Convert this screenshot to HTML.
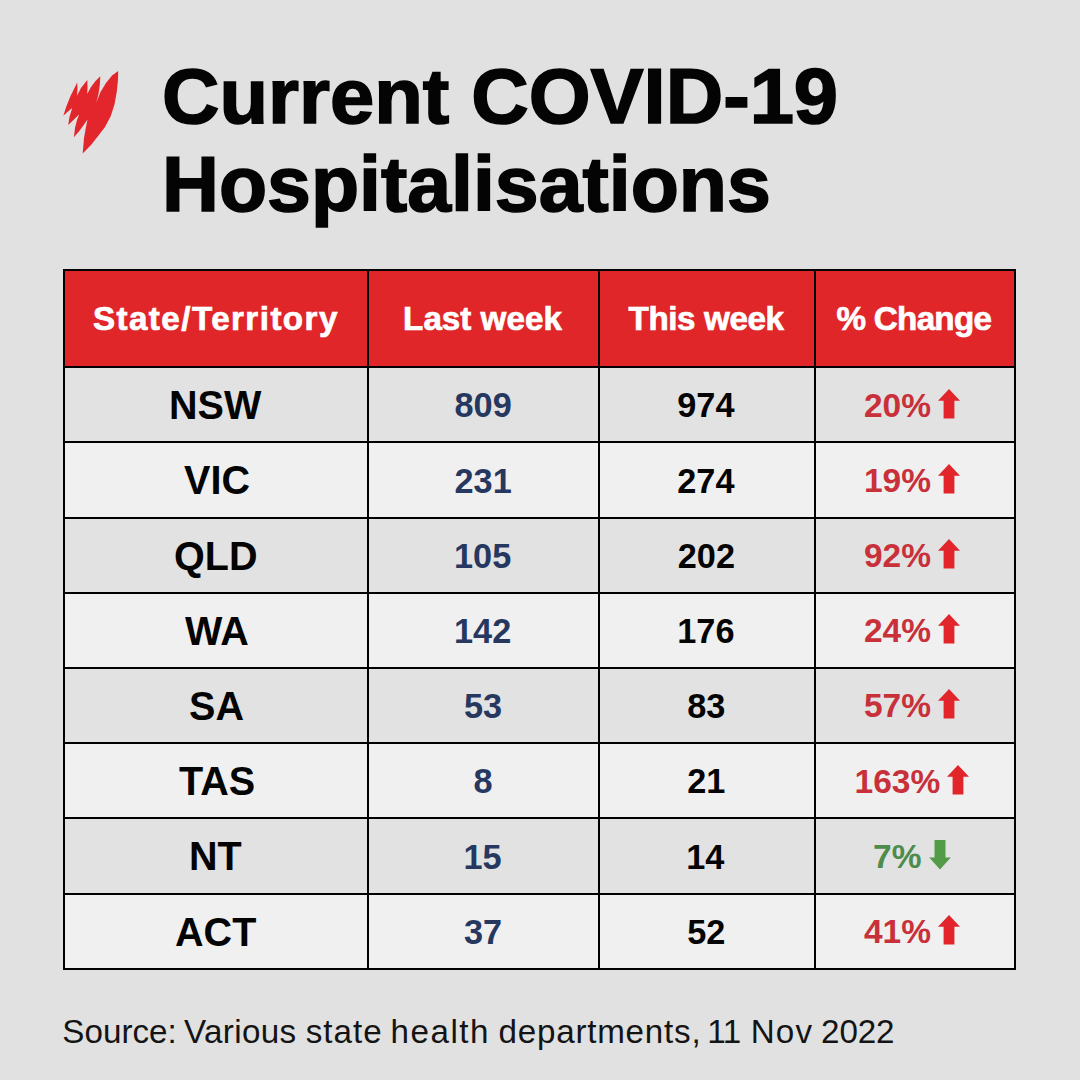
<!DOCTYPE html>
<html><head><meta charset="utf-8"><title>Current COVID-19 Hospitalisations</title><style>
html,body{margin:0;padding:0;}
body{width:1080px;height:1080px;background:#e1e1e1;position:relative;overflow:hidden;font-family:"Liberation Sans",sans-serif;}
</style></head><body>
<svg style="position:absolute;left:0;top:0" width="200" height="200" viewBox="0 0 200 200"><path d="M118.2,71.0 L118.0,80.0 L116.8,91.4 L114.6,104.0 L110.8,116.0 L105.0,127.0 L98.5,135.6 L91.0,145.0 L82.7,153.6 L84.0,138.0 L85.8,128.0 L87.5,119.5 L83.0,126.0 L78.5,132.0 L73.9,137.3 L75.0,128.0 L77.0,120.0 L79.2,114.3 L74.5,119.0 L68.2,125.0 L69.5,117.0 L72.2,108.1 L68.0,111.5 L63.3,115.8 L66.5,106.0 L70.5,96.0 L74.0,89.0 L77.2,82.4 L77.5,89.0 L77.0,95.8 L81.0,88.0 L87.3,80.0 L87.5,87.0 L87.2,94.0 L91.0,87.0 L95.5,81.0 L100.3,76.3 L99.8,85.0 L98.5,94.0 L96.3,102.8 L100.5,92.0 L106.0,83.0 L112.0,75.5Z" fill="#e2262b"/></svg>
<div style="position:absolute;left:63px;top:269px;width:953px;height:97px;background:#e1262a"></div>
<div style="position:absolute;left:63px;top:366px;width:953px;height:75px;background:#e2e2e2"></div>
<div style="position:absolute;left:63px;top:441px;width:953px;height:76px;background:#f0f0f0"></div>
<div style="position:absolute;left:63px;top:517px;width:953px;height:75px;background:#e2e2e2"></div>
<div style="position:absolute;left:63px;top:592px;width:953px;height:75px;background:#f0f0f0"></div>
<div style="position:absolute;left:63px;top:667px;width:953px;height:75px;background:#e2e2e2"></div>
<div style="position:absolute;left:63px;top:742px;width:953px;height:75px;background:#f0f0f0"></div>
<div style="position:absolute;left:63px;top:817px;width:953px;height:76px;background:#e2e2e2"></div>
<div style="position:absolute;left:63px;top:893px;width:953px;height:75px;background:#f0f0f0"></div>
<div style="position:absolute;left:63px;top:269px;width:2px;height:701px;background:#000"></div>
<div style="position:absolute;left:367px;top:269px;width:2px;height:701px;background:#000"></div>
<div style="position:absolute;left:598px;top:269px;width:2px;height:701px;background:#000"></div>
<div style="position:absolute;left:814px;top:269px;width:2px;height:701px;background:#000"></div>
<div style="position:absolute;left:1014px;top:269px;width:2px;height:701px;background:#000"></div>
<div style="position:absolute;left:63px;top:269px;width:953px;height:2px;background:#000"></div>
<div style="position:absolute;left:63px;top:366px;width:953px;height:2px;background:#000"></div>
<div style="position:absolute;left:63px;top:441px;width:953px;height:2px;background:#000"></div>
<div style="position:absolute;left:63px;top:517px;width:953px;height:2px;background:#000"></div>
<div style="position:absolute;left:63px;top:592px;width:953px;height:2px;background:#000"></div>
<div style="position:absolute;left:63px;top:667px;width:953px;height:2px;background:#000"></div>
<div style="position:absolute;left:63px;top:742px;width:953px;height:2px;background:#000"></div>
<div style="position:absolute;left:63px;top:817px;width:953px;height:2px;background:#000"></div>
<div style="position:absolute;left:63px;top:893px;width:953px;height:2px;background:#000"></div>
<div style="position:absolute;left:63px;top:968px;width:953px;height:2px;background:#000"></div>
<div style="position:absolute;left:161.93px;top:58.00px;color:#040404;font-family:'Liberation Sans';font-weight:700;font-size:77.0px;line-height:77.0px;white-space:nowrap;-webkit-text-stroke:1.6px currentColor;transform:scaleX(1.0328);transform-origin:0 0;letter-spacing:0.000px">Current COVID-19</div>
<div style="position:absolute;left:162.11px;top:146.10px;color:#040404;font-family:'Liberation Sans';font-weight:700;font-size:77.0px;line-height:77.0px;white-space:nowrap;-webkit-text-stroke:1.6px currentColor;transform:scaleX(1.0236);transform-origin:0 0;letter-spacing:0.000px">Hospitalisations</div>
<div style="position:absolute;left:92.90px;top:302.40px;color:#fff;font-family:'Liberation Sans';font-weight:700;font-size:33.2px;line-height:33.2px;white-space:nowrap;-webkit-text-stroke:0.7px currentColor;transform:scaleX(1.0000);transform-origin:0 0;letter-spacing:1.436px">State/Territory</div>
<div style="position:absolute;left:403.10px;top:302.40px;color:#fff;font-family:'Liberation Sans';font-weight:700;font-size:33.2px;line-height:33.2px;white-space:nowrap;-webkit-text-stroke:0.7px currentColor;transform:scaleX(1.0000);transform-origin:0 0;letter-spacing:0.013px">Last week</div>
<div style="position:absolute;left:628.50px;top:302.40px;color:#fff;font-family:'Liberation Sans';font-weight:700;font-size:33.2px;line-height:33.2px;white-space:nowrap;-webkit-text-stroke:0.7px currentColor;transform:scaleX(1.0000);transform-origin:0 0;letter-spacing:-0.388px">This week</div>
<div style="position:absolute;left:836.60px;top:302.40px;color:#fff;font-family:'Liberation Sans';font-weight:700;font-size:33.2px;line-height:33.2px;white-space:nowrap;-webkit-text-stroke:0.7px currentColor;transform:scaleX(1.0000);transform-origin:0 0;letter-spacing:-0.729px">% Change</div>
<div style="position:absolute;left:62.30px;top:1014.50px;color:#141414;font-family:'Liberation Sans';font-weight:400;font-size:33.2px;line-height:33.2px;white-space:nowrap;transform:scaleX(1.0000);transform-origin:0 0;letter-spacing:0.017px">Source:</div>
<div style="position:absolute;left:183.90px;top:1014.50px;color:#141414;font-family:'Liberation Sans';font-weight:400;font-size:33.2px;line-height:33.2px;white-space:nowrap;transform:scaleX(1.0000);transform-origin:0 0;letter-spacing:0.367px">Various</div>
<div style="position:absolute;left:305.70px;top:1014.50px;color:#141414;font-family:'Liberation Sans';font-weight:400;font-size:33.2px;line-height:33.2px;white-space:nowrap;transform:scaleX(1.0000);transform-origin:0 0;letter-spacing:1.025px">state</div>
<div style="position:absolute;left:390.40px;top:1014.50px;color:#141414;font-family:'Liberation Sans';font-weight:400;font-size:33.2px;line-height:33.2px;white-space:nowrap;transform:scaleX(1.0000);transform-origin:0 0;letter-spacing:1.540px">health</div>
<div style="position:absolute;left:498.50px;top:1014.50px;color:#141414;font-family:'Liberation Sans';font-weight:400;font-size:33.2px;line-height:33.2px;white-space:nowrap;transform:scaleX(1.0000);transform-origin:0 0;letter-spacing:0.764px">departments,</div>
<div style="position:absolute;left:707.20px;top:1014.50px;color:#141414;font-family:'Liberation Sans';font-weight:400;font-size:33.2px;line-height:33.2px;white-space:nowrap;transform:scaleX(1.0000);transform-origin:0 0;letter-spacing:-0.400px">11</div>
<div style="position:absolute;left:750.70px;top:1014.50px;color:#141414;font-family:'Liberation Sans';font-weight:400;font-size:33.2px;line-height:33.2px;white-space:nowrap;transform:scaleX(1.0000);transform-origin:0 0;letter-spacing:1.150px">Nov</div>
<div style="position:absolute;left:821.10px;top:1014.50px;color:#141414;font-family:'Liberation Sans';font-weight:400;font-size:33.2px;line-height:33.2px;white-space:nowrap;transform:scaleX(1.0000);transform-origin:0 0;letter-spacing:-0.167px">2022</div>
<div style="position:absolute;left:169.01px;top:385.10px;color:#040404;font-family:'Liberation Sans';font-weight:700;font-size:40.6px;line-height:40.6px;white-space:nowrap;transform:scaleX(0.9750);transform-origin:0 0;letter-spacing:0.000px">NSW</div>
<div style="position:absolute;left:454.50px;top:388.35px;color:#26385f;font-family:'Liberation Sans';font-weight:700;font-size:34.3px;line-height:34.3px;white-space:nowrap;transform:scaleX(1.0000);transform-origin:0 0;letter-spacing:0.000px">809</div>
<div style="position:absolute;left:677.30px;top:388.35px;color:#040404;font-family:'Liberation Sans';font-weight:700;font-size:34.3px;line-height:34.3px;white-space:nowrap;transform:scaleX(1.0000);transform-origin:0 0;letter-spacing:0.000px">974</div>
<div style="position:absolute;left:184.12px;top:460.30px;color:#040404;font-family:'Liberation Sans';font-weight:700;font-size:40.6px;line-height:40.6px;white-space:nowrap;transform:scaleX(0.9750);transform-origin:0 0;letter-spacing:0.000px">VIC</div>
<div style="position:absolute;left:454.50px;top:463.55px;color:#26385f;font-family:'Liberation Sans';font-weight:700;font-size:34.3px;line-height:34.3px;white-space:nowrap;transform:scaleX(1.0000);transform-origin:0 0;letter-spacing:0.000px">231</div>
<div style="position:absolute;left:677.30px;top:463.55px;color:#040404;font-family:'Liberation Sans';font-weight:700;font-size:34.3px;line-height:34.3px;white-space:nowrap;transform:scaleX(1.0000);transform-origin:0 0;letter-spacing:0.000px">274</div>
<div style="position:absolute;left:174.38px;top:535.50px;color:#040404;font-family:'Liberation Sans';font-weight:700;font-size:40.6px;line-height:40.6px;white-space:nowrap;transform:scaleX(0.9750);transform-origin:0 0;letter-spacing:0.000px">QLD</div>
<div style="position:absolute;left:454.00px;top:538.75px;color:#26385f;font-family:'Liberation Sans';font-weight:700;font-size:34.3px;line-height:34.3px;white-space:nowrap;transform:scaleX(1.0000);transform-origin:0 0;letter-spacing:0.000px">105</div>
<div style="position:absolute;left:677.80px;top:538.75px;color:#040404;font-family:'Liberation Sans';font-weight:700;font-size:34.3px;line-height:34.3px;white-space:nowrap;transform:scaleX(1.0000);transform-origin:0 0;letter-spacing:0.000px">202</div>
<div style="position:absolute;left:185.10px;top:610.70px;color:#040404;font-family:'Liberation Sans';font-weight:700;font-size:40.6px;line-height:40.6px;white-space:nowrap;transform:scaleX(0.9750);transform-origin:0 0;letter-spacing:0.000px">WA</div>
<div style="position:absolute;left:454.00px;top:613.95px;color:#26385f;font-family:'Liberation Sans';font-weight:700;font-size:34.3px;line-height:34.3px;white-space:nowrap;transform:scaleX(1.0000);transform-origin:0 0;letter-spacing:0.000px">142</div>
<div style="position:absolute;left:677.30px;top:613.95px;color:#040404;font-family:'Liberation Sans';font-weight:700;font-size:34.3px;line-height:34.3px;white-space:nowrap;transform:scaleX(1.0000);transform-origin:0 0;letter-spacing:0.000px">176</div>
<div style="position:absolute;left:188.51px;top:685.90px;color:#040404;font-family:'Liberation Sans';font-weight:700;font-size:40.6px;line-height:40.6px;white-space:nowrap;transform:scaleX(0.9750);transform-origin:0 0;letter-spacing:0.000px">SA</div>
<div style="position:absolute;left:464.00px;top:689.15px;color:#26385f;font-family:'Liberation Sans';font-weight:700;font-size:34.3px;line-height:34.3px;white-space:nowrap;transform:scaleX(1.0000);transform-origin:0 0;letter-spacing:0.000px">53</div>
<div style="position:absolute;left:687.30px;top:689.15px;color:#040404;font-family:'Liberation Sans';font-weight:700;font-size:34.3px;line-height:34.3px;white-space:nowrap;transform:scaleX(1.0000);transform-origin:0 0;letter-spacing:0.000px">83</div>
<div style="position:absolute;left:178.76px;top:761.10px;color:#040404;font-family:'Liberation Sans';font-weight:700;font-size:40.6px;line-height:40.6px;white-space:nowrap;transform:scaleX(0.9750);transform-origin:0 0;letter-spacing:0.000px">TAS</div>
<div style="position:absolute;left:473.50px;top:764.35px;color:#26385f;font-family:'Liberation Sans';font-weight:700;font-size:34.3px;line-height:34.3px;white-space:nowrap;transform:scaleX(1.0000);transform-origin:0 0;letter-spacing:0.000px">8</div>
<div style="position:absolute;left:687.30px;top:764.35px;color:#040404;font-family:'Liberation Sans';font-weight:700;font-size:34.3px;line-height:34.3px;white-space:nowrap;transform:scaleX(1.0000);transform-origin:0 0;letter-spacing:0.000px">21</div>
<div style="position:absolute;left:188.51px;top:836.30px;color:#040404;font-family:'Liberation Sans';font-weight:700;font-size:40.6px;line-height:40.6px;white-space:nowrap;transform:scaleX(0.9750);transform-origin:0 0;letter-spacing:0.000px">NT</div>
<div style="position:absolute;left:463.50px;top:839.55px;color:#26385f;font-family:'Liberation Sans';font-weight:700;font-size:34.3px;line-height:34.3px;white-space:nowrap;transform:scaleX(1.0000);transform-origin:0 0;letter-spacing:0.000px">15</div>
<div style="position:absolute;left:686.30px;top:839.55px;color:#040404;font-family:'Liberation Sans';font-weight:700;font-size:34.3px;line-height:34.3px;white-space:nowrap;transform:scaleX(1.0000);transform-origin:0 0;letter-spacing:0.000px">14</div>
<div style="position:absolute;left:175.35px;top:911.50px;color:#040404;font-family:'Liberation Sans';font-weight:700;font-size:40.6px;line-height:40.6px;white-space:nowrap;transform:scaleX(0.9750);transform-origin:0 0;letter-spacing:0.000px">ACT</div>
<div style="position:absolute;left:464.00px;top:914.75px;color:#26385f;font-family:'Liberation Sans';font-weight:700;font-size:34.3px;line-height:34.3px;white-space:nowrap;transform:scaleX(1.0000);transform-origin:0 0;letter-spacing:0.000px">37</div>
<div style="position:absolute;left:687.30px;top:914.75px;color:#040404;font-family:'Liberation Sans';font-weight:700;font-size:34.3px;line-height:34.3px;white-space:nowrap;transform:scaleX(1.0000);transform-origin:0 0;letter-spacing:0.000px">52</div>
<div style="position:absolute;left:612.0px;width:600px;text-align:center;top:388.57px;font-size:33.5px;line-height:33.5px;font-weight:700;color:#c8303a;white-space:nowrap">20%<svg width="22" height="30" viewBox="0 0 22 30" style="vertical-align:top;margin-left:7.2px;position:relative;top:0px"><path d="M11 0 L22 11.8 L16.4 11.8 L16.4 29.6 L5.6 29.6 L5.6 11.8 L0 11.8Z" fill="#e2242b"/></svg></div>
<div style="position:absolute;left:612.0px;width:600px;text-align:center;top:463.77px;font-size:33.5px;line-height:33.5px;font-weight:700;color:#c8303a;white-space:nowrap">19%<svg width="22" height="30" viewBox="0 0 22 30" style="vertical-align:top;margin-left:7.2px;position:relative;top:0px"><path d="M11 0 L22 11.8 L16.4 11.8 L16.4 29.6 L5.6 29.6 L5.6 11.8 L0 11.8Z" fill="#e2242b"/></svg></div>
<div style="position:absolute;left:612.0px;width:600px;text-align:center;top:538.98px;font-size:33.5px;line-height:33.5px;font-weight:700;color:#c8303a;white-space:nowrap">92%<svg width="22" height="30" viewBox="0 0 22 30" style="vertical-align:top;margin-left:7.2px;position:relative;top:0px"><path d="M11 0 L22 11.8 L16.4 11.8 L16.4 29.6 L5.6 29.6 L5.6 11.8 L0 11.8Z" fill="#e2242b"/></svg></div>
<div style="position:absolute;left:612.0px;width:600px;text-align:center;top:614.17px;font-size:33.5px;line-height:33.5px;font-weight:700;color:#c8303a;white-space:nowrap">24%<svg width="22" height="30" viewBox="0 0 22 30" style="vertical-align:top;margin-left:7.2px;position:relative;top:0px"><path d="M11 0 L22 11.8 L16.4 11.8 L16.4 29.6 L5.6 29.6 L5.6 11.8 L0 11.8Z" fill="#e2242b"/></svg></div>
<div style="position:absolute;left:612.0px;width:600px;text-align:center;top:689.38px;font-size:33.5px;line-height:33.5px;font-weight:700;color:#c8303a;white-space:nowrap">57%<svg width="22" height="30" viewBox="0 0 22 30" style="vertical-align:top;margin-left:7.2px;position:relative;top:0px"><path d="M11 0 L22 11.8 L16.4 11.8 L16.4 29.6 L5.6 29.6 L5.6 11.8 L0 11.8Z" fill="#e2242b"/></svg></div>
<div style="position:absolute;left:612.0px;width:600px;text-align:center;top:764.58px;font-size:33.5px;line-height:33.5px;font-weight:700;color:#c8303a;white-space:nowrap">163%<svg width="22" height="30" viewBox="0 0 22 30" style="vertical-align:top;margin-left:7.2px;position:relative;top:0px"><path d="M11 0 L22 11.8 L16.4 11.8 L16.4 29.6 L5.6 29.6 L5.6 11.8 L0 11.8Z" fill="#e2242b"/></svg></div>
<div style="position:absolute;left:612.0px;width:600px;text-align:center;top:839.78px;font-size:33.5px;line-height:33.5px;font-weight:700;color:#4c8c4c;white-space:nowrap">7%<svg width="22" height="30" viewBox="0 0 22 30" style="vertical-align:top;margin-left:7.5px;position:relative;top:0px"><path d="M5.5 0 L16.5 0 L16.5 17.5 L21.8 17.5 L11 29.6 L0.2 17.5 L5.5 17.5Z" fill="#529b47"/></svg></div>
<div style="position:absolute;left:612.0px;width:600px;text-align:center;top:914.97px;font-size:33.5px;line-height:33.5px;font-weight:700;color:#c8303a;white-space:nowrap">41%<svg width="22" height="30" viewBox="0 0 22 30" style="vertical-align:top;margin-left:7.2px;position:relative;top:0px"><path d="M11 0 L22 11.8 L16.4 11.8 L16.4 29.6 L5.6 29.6 L5.6 11.8 L0 11.8Z" fill="#e2242b"/></svg></div>
</body></html>
